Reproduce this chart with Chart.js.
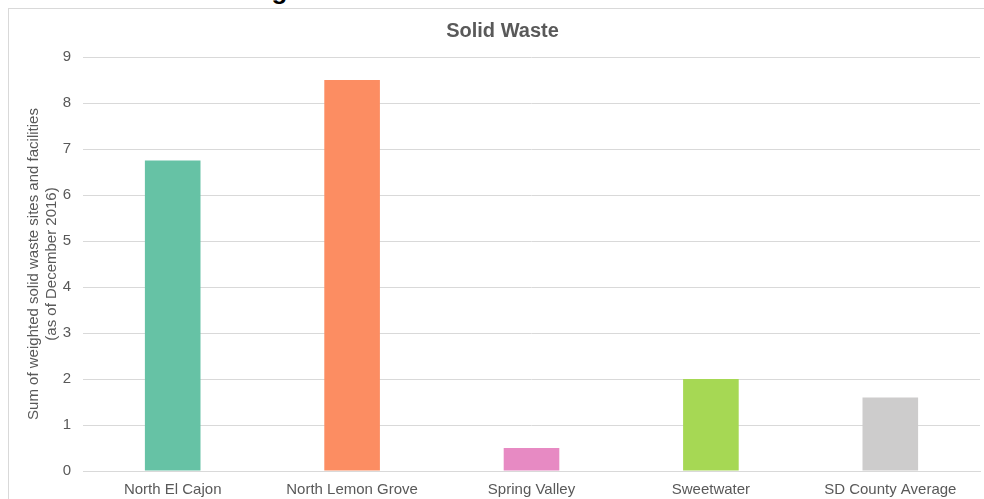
<!DOCTYPE html>
<html>
<head>
<meta charset="utf-8">
<script src="https://cdn.jsdelivr.net/npm/chart.js@4.4.0/dist/chart.umd.min.js"></script>
<style>
  html, body { margin: 0; padding: 0; background: #fff; overflow: hidden; }
  body { width: 984px; height: 499px; position: relative; font-family: "Liberation Sans", Arial, sans-serif; }
  .fig-title {
    position: absolute; left: 0; width: 1000px; top: -25px; text-align: center;
    font-weight: bold; font-size: 26px; color: #000; line-height: 30px; white-space: nowrap;
  }
  .frame {
    position: absolute; left: 8px; top: 8px; width: 976px; height: 491px;
    border-top: 1px solid #d9d9d9; border-left: 1px solid #d9d9d9; box-sizing: border-box;
    background: #fff;
  }
  .frame canvas { position: absolute; left: 0; top: 0; }
</style>
</head>
<body>
<div class="fig-title">Figure 8. Solid Waste Sites and Facilities</div>
<div class="frame"><canvas id="chart" width="975" height="490"></canvas></div>
<script>
const categories = ['North El Cajon', 'North Lemon Grove', 'Spring Valley', 'Sweetwater', 'SD County Average'];
const wasteScores = [6.75, 8.5, 0.5, 2.0, 1.6];
const barColors = ['#66c2a5', '#fc8d62', '#e78ac3', '#a6d854', '#cdcccc'];
const yTicks = [0, 1, 2, 3, 4, 5, 6, 7, 8, 9];

const textColor = '#595959';
const gridColor = '#d9d9d9';
const fontFamily = '"Liberation Sans", Arial, sans-serif';

new Chart(document.getElementById('chart'), {
  type: 'bar',
  data: {
    labels: categories,
    datasets: [{
      data: wasteScores,
      backgroundColor: barColors,
      categoryPercentage: 1,
      barPercentage: 0.31
    }]
  },
  options: {
    responsive: false,
    animation: false,
    layout: { padding: { top: 0, right: 4, left: 16, bottom: 0 } },
    scales: {
      x: {
        grid: { display: false, drawTicks: false },
        border: { display: true, color: gridColor },
        ticks: { color: textColor, font: { family: fontFamily, size: 15 }, padding: 10, maxRotation: 0 },
        afterFit(scale) { scale.height = 28; }
      },
      y: {
        min: 0,
        max: 9,
        afterBuildTicks(scale) { scale.ticks = yTicks.map((v) => ({ value: v })); },
        grid: { color: gridColor, drawTicks: false },
        border: { display: false },
        ticks: { color: textColor, font: { family: fontFamily, size: 15 }, padding: 12 },
        title: {
          display: true,
          text: ['Sum of weighted solid waste sites and facilities', '(as of December 2016)'],
          color: textColor,
          font: { family: fontFamily, size: 15 },
          padding: { top: 0, bottom: 0 }
        },
        afterFit(scale) { scale.width = 58; }
      }
    },
    plugins: {
      legend: { display: false },
      tooltip: { enabled: false },
      title: {
        display: true,
        text: 'Solid Waste',
        color: textColor,
        font: { family: fontFamily, size: 20, weight: 'bold' },
        padding: { top: 10, bottom: 14 }
      }
    }
  }
});
</script>
</body>
</html>
